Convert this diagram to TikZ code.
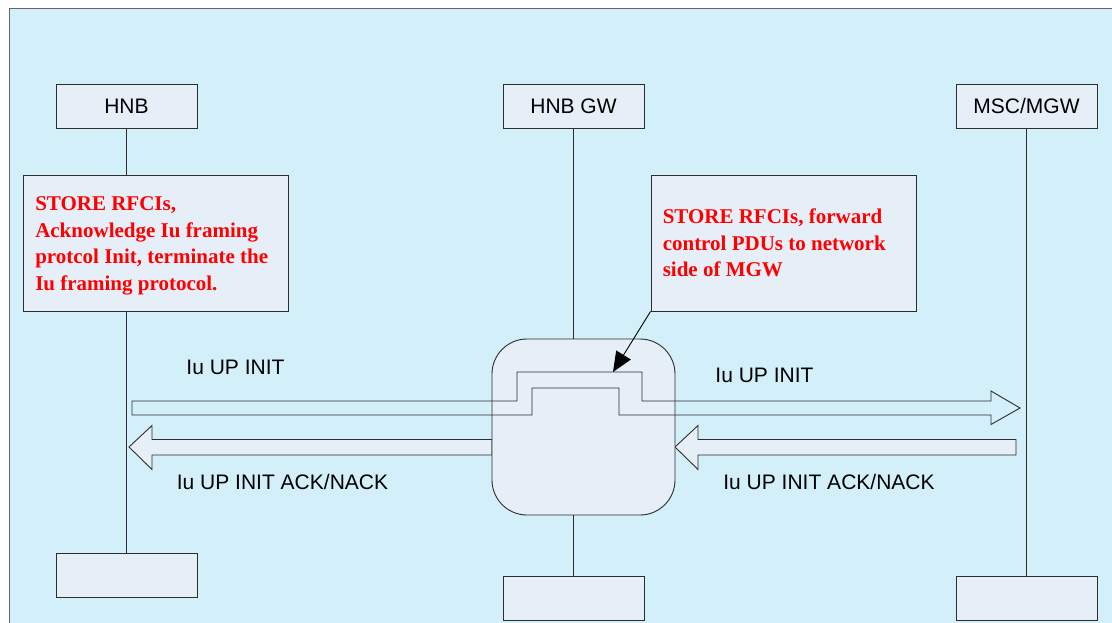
\documentclass[tikz,border=0pt]{standalone}
\usepackage{fontspec}
\setmainfont{Liberation Serif}
\setsansfont{Liberation Sans}
\usepackage{tikz}
\usetikzlibrary{positioning}
\usetikzlibrary{calc}
\usetikzlibrary{arrows.meta}
\definecolor{sheet}{RGB}{210,239,250}
\definecolor{boxfill}{RGB}{230,238,248}
\definecolor{edge}{RGB}{45,45,45}
\tikzset{entity/.style={minimum width=141pt, minimum height=44pt, draw=edge, fill=boxfill, line width=0.9pt, font=\sffamily\fontsize{21}{24}\selectfont},
note/.style={minimum width=265pt, minimum height=136pt, draw=edge, fill=boxfill, line width=0.9pt},
notetext/.style={anchor=west, align=left, inner sep=0pt, text=red, font=\bfseries\fontsize{21}{26.5}\selectfont},
msg/.style={inner sep=0pt, font=\sffamily\fontsize{21}{24}\selectfont},
lifeline/.style={draw=edge, line width=0.8pt},
hollow/.style={draw=edge, fill=boxfill, line width=0.9pt},
band/.style={draw=edge, line width=0.9pt}}

\begin{document}
\begin{tikzpicture}[x=1pt, y=-1pt]
\clip (0,0) rectangle (1112,623);
\fill[white] (0,0) rectangle (1112,623);
\draw[fill=sheet, draw=gray!80!black, line width=1pt] (9,9) rectangle (1140,650);

% lifeline heads and ends
\node (hnb) [entity] at (126.5,106) {HNB};
\node (gw) [entity, right of=hnb, node distance=447pt] {HNB GW};
\node (msc) [entity, right of=gw, node distance=453pt] {MSC/MGW};

\node (hnbend) [entity] at (126.5,575.5) {};
\node (gwend) [entity] at (573.5,598) {};
\node (mscend) [entity, right of=gwend, node distance=453pt] {};

% notes
\node (hnbnote) [note] at (156,243) {};
\node (gwnote) [note] at (783.5,243) {};
\node (hnbtext) [notetext] at ([xshift=12pt,yshift=-3pt]hnbnote.west) {STORE RFCIs,\\Acknowledge Iu framing\\protcol Init, terminate the\\Iu framing protocol.};
\node (gwtext) [notetext] at ([xshift=12pt]gwnote.west) {STORE RFCIs, forward\\control PDUs to network\\side of MGW};

\draw[lifeline] (hnb.south) -- (hnb.south |- hnbnote.north);
\draw[lifeline] (hnb.south |- hnbnote.south) -- (hnbend.north);
\draw[lifeline] (msc.south) -- (mscend.north);

% ACK/NACK arrows
\draw[hollow] (492,439.5) -- (152,439.5) -- (152,425.5) -- (129,447) -- (152,469.5) -- (152,455) -- (492,455) -- cycle;
\draw[hollow] (1016,439.5) -- (698,439.5) -- (698,425.5) -- (675,447) -- (698,469.5) -- (698,455) -- (1016,455) -- cycle;

\node (gwbox) [draw=edge, fill=boxfill, line width=0.9pt, rounded corners=35pt, minimum width=183pt, minimum height=176pt] at (583.5,427) {};
\draw[lifeline] (gw.south) -- (gw.south |- gwbox.north);
\draw[lifeline] (gw.south |- gwbox.south) -- (gwend.north);

% INIT through the gateway
\draw[band] (132,401) -- (517,401) -- (517,372) -- (642,372) -- (642,401) -- (991,401) -- (991,391) -- (1020,408) -- (991,424.5) -- (991,415) -- (619,415) -- (619,388) -- (532,388) -- (532,415) -- (132,415) -- cycle;

\coordinate (hint) at (613,372);
\draw[line width=0.9pt, -{Triangle[length=20pt,width=17pt]}] (gwnote.south west) -- (hint);

\node (init1) [msg] at (235.5,367) {Iu UP INIT};
\node (init2) [msg] at (764.5,375) {Iu UP INIT};
\node (ack1) [msg] at (282.5,482) {Iu UP INIT ACK/NACK};
\node (ack2) [msg] at (829,482) {Iu UP INIT ACK/NACK};
\end{tikzpicture}
\end{document}
